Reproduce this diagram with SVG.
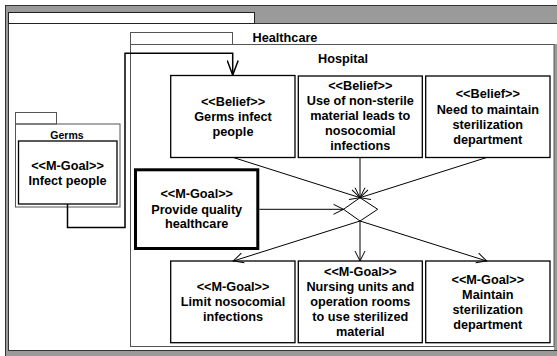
<svg xmlns="http://www.w3.org/2000/svg" width="557" height="356" viewBox="0 0 557 356">
  <style>
    text { font-family: "Liberation Sans", Arial, sans-serif; font-weight: bold; font-size: 12.7px; fill: #000; text-anchor: middle; }
    .pkg { fill: none; stroke: #555; stroke-width: 1; }
    .node { fill: #fff; stroke: #000; stroke-width: 1.3; }
    .thick { fill: #fff; stroke: #000; stroke-width: 3; }
    .edge { fill: none; stroke: #000; stroke-width: 1; }
    .route { fill: none; stroke: #000; stroke-width: 1.5; }
    .small { font-size: 10.5px; }
  </style>
  <defs>
    <marker id="open" viewBox="0 0 12 12" refX="11" refY="6" markerWidth="12" markerHeight="12" markerUnits="userSpaceOnUse" orient="auto">
      <path d="M1,1 L11,6 L1,11" fill="none" stroke="#000" stroke-width="1"/>
    </marker>
    <marker id="openBig" viewBox="0 0 16 12" refX="15" refY="6" markerWidth="16" markerHeight="12" markerUnits="userSpaceOnUse" orient="auto">
      <path d="M0.5,0.5 L15,6 L0.5,11.5" fill="none" stroke="#000" stroke-width="1.5"/>
    </marker>
  </defs>

  <!-- window frame -->
  <g id="frame">
    <rect x="5.5" y="5.5" width="560" height="360" fill="#9a9a9a" stroke="#333" stroke-width="1"/>
    <rect x="8.5" y="23.5" width="554" height="327" fill="#fff" stroke="#333" stroke-width="1"/>
    <rect x="8.5" y="12.5" width="246" height="11" fill="#fff" stroke="#222" stroke-width="1"/>
    <rect x="554" y="44" width="3" height="306" fill="#9a9a9a"/>
  </g>

  <!-- Healthcare / Hospital package -->
  <g id="healthcare">
    <rect class="pkg" x="130.5" y="32.5" width="102" height="12"/>
    <rect class="pkg" x="130.5" y="44.5" width="423.5" height="302" stroke="#333"/>
    <text x="285" y="42">Healthcare</text>
    <text x="343" y="63">Hospital</text>
  </g>

  <!-- Germs package -->
  <g id="germs">
    <rect class="pkg" x="15.5" y="112.5" width="41" height="11.5"/>
    <rect class="pkg" x="15.5" y="124" width="104.5" height="83"/>
    <text class="small" x="67" y="138.5">Germs</text>
  </g>

  <g id="infect-people">
    <rect class="node" x="18.5" y="141" width="98.5" height="63" stroke-width="1.5"/>
    <text x="67.5" y="170">&lt;&lt;M-Goal&gt;&gt;</text>
    <text x="67.5" y="185">Infect people</text>
  </g>

  <g id="belief-germs">
    <rect class="node" x="170.7" y="75.5" width="124.3" height="82"/>
    <text x="233" y="106">&lt;&lt;Belief&gt;&gt;</text>
    <text x="233" y="121">Germs infect</text>
    <text x="233" y="136">people</text>
  </g>

  <g id="belief-nonsterile">
    <rect class="node" x="298.3" y="76" width="124" height="81.5"/>
    <text x="360.3" y="89.5">&lt;&lt;Belief&gt;&gt;</text>
    <text x="360.3" y="105">Use of non-sterile</text>
    <text x="360.3" y="120">material leads to</text>
    <text x="360.3" y="135">nosocomial</text>
    <text x="360.3" y="150">infections</text>
  </g>

  <g id="belief-sterilization">
    <rect class="node" x="425.7" y="76" width="124.3" height="81.5"/>
    <text x="487.8" y="98">&lt;&lt;Belief&gt;&gt;</text>
    <text x="487.8" y="113.5">Need to maintain</text>
    <text x="487.8" y="128.5">sterilization</text>
    <text x="487.8" y="143.5">department</text>
  </g>

  <g id="provide-quality">
    <rect class="thick" x="135.5" y="169.8" width="122.3" height="78.7"/>
    <text x="196.7" y="197.5">&lt;&lt;M-Goal&gt;&gt;</text>
    <text x="196.7" y="213.5">Provide quality</text>
    <text x="196.7" y="227.5">healthcare</text>
  </g>

  <g id="limit-nosocomial">
    <rect class="node" x="170.7" y="261" width="124.3" height="81.7"/>
    <text x="233" y="291">&lt;&lt;M-Goal&gt;&gt;</text>
    <text x="233" y="306">Limit nosocomial</text>
    <text x="233" y="321">infections</text>
  </g>

  <g id="nursing-units">
    <rect class="node" x="298.3" y="261" width="124" height="81.7"/>
    <text x="360.3" y="276">&lt;&lt;M-Goal&gt;&gt;</text>
    <text x="360.3" y="291">Nursing units and</text>
    <text x="360.3" y="306">operation rooms</text>
    <text x="360.3" y="321">to use sterilized</text>
    <text x="360.3" y="336">material</text>
  </g>

  <g id="maintain-sterilization">
    <rect class="node" x="425.7" y="261" width="124.3" height="81.7"/>
    <text x="487.8" y="283.5">&lt;&lt;M-Goal&gt;&gt;</text>
    <text x="487.8" y="298.5">Maintain</text>
    <text x="487.8" y="313.5">sterilization</text>
    <text x="487.8" y="328.5">department</text>
  </g>

  <g id="decision">
    <polygon points="360,197.7 377.7,209.3 360,221 343.5,209.3" fill="#fff" stroke="#000" stroke-width="1"/>
  </g>

  <g id="connectors">
    <polyline class="route" points="67.5,204 67.5,227.5 125,227.5 125,53.3 232.7,53.3 232.7,75" marker-end="url(#openBig)"/>
    <line class="edge" x1="233.3" y1="157.5" x2="360" y2="197.7" marker-end="url(#open)"/>
    <line class="edge" x1="360" y1="157.5" x2="360" y2="197.7" marker-end="url(#open)"/>
    <line class="edge" x1="486.7" y1="157.5" x2="360" y2="197.7" marker-end="url(#open)"/>
    <line class="edge" x1="259.3" y1="209.3" x2="343.5" y2="209.3" marker-end="url(#open)"/>
    <line class="edge" x1="360" y1="221" x2="233.3" y2="261" marker-end="url(#open)"/>
    <line class="edge" x1="360" y1="221" x2="360" y2="261" marker-end="url(#open)"/>
    <line class="edge" x1="360" y1="221" x2="486.7" y2="261" marker-end="url(#open)"/>
  </g>
</svg>
